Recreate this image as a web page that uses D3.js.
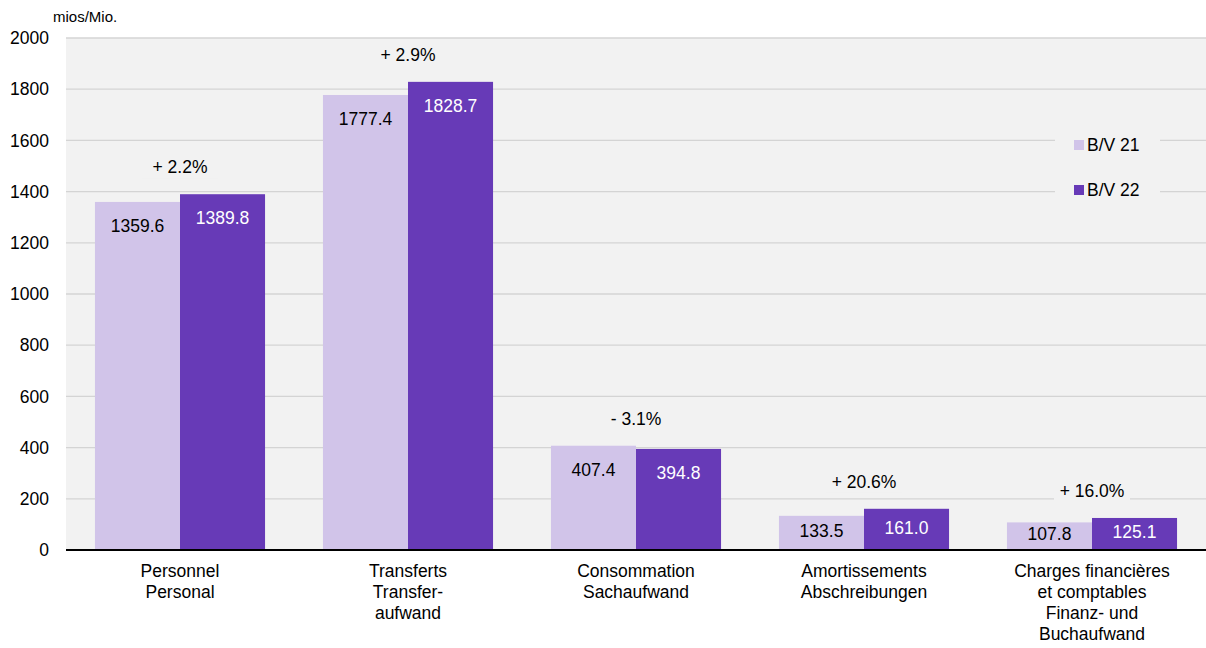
<!DOCTYPE html>
<html>
<head>
<meta charset="utf-8">
<script src="https://cdn.jsdelivr.net/npm/d3@7"></script>
<style>
  body { margin: 0; background: #fff; }
  text { font-family: "Liberation Sans", Arial, sans-serif; }
</style>
</head>
<body>
<div id="chart"></div>
<script>
const categories = [
  ["Personnel", "Personal"],
  ["Transferts", "Transfer-", "aufwand"],
  ["Consommation", "Sachaufwand"],
  ["Amortissements", "Abschreibungen"],
  ["Charges financières", "et comptables", "Finanz- und", "Buchaufwand"]
];
const series = ["B/V 21", "B/V 22"];
const bv21 = [1359.6, 1777.4, 407.4, 133.5, 107.8];
const bv22 = [1389.8, 1828.7, 394.8, 161.0, 125.1];
const changes = ["+ 2.2%", "+ 2.9%", "- 3.1%", "+ 20.6%", "+ 16.0%"];
const yTicks = [0, 200, 400, 600, 800, 1000, 1200, 1400, 1600, 1800, 2000];
const COLORS = ["#d1c4e9", "#673ab7"];
const FS = 17.5;

const W = 1206, H = 648;
const MARGIN = {TOP: 38, BOTTOM: 98, LEFT: 66, RIGHT: 0};
const WIDTH = W - MARGIN.LEFT - MARGIN.RIGHT;
const HEIGHT = H - MARGIN.TOP - MARGIN.BOTTOM;

const svg = d3.select("#chart").append("svg")
  .attr("width", W).attr("height", H);

const g = svg.append("g")
  .attr("transform", `translate(${MARGIN.LEFT},${MARGIN.TOP})`);

const x0 = d3.scaleBand().domain(d3.range(categories.length))
  .range([0, WIDTH]).paddingInner(0.254).paddingOuter(0.127);
const x1 = d3.scaleBand().domain(d3.range(series.length))
  .range([0, x0.bandwidth()]);
const y = d3.scaleLinear().domain([0, 2000]).range([HEIGHT, 0]);

// plot background
g.append("rect")
  .attr("width", WIDTH).attr("height", HEIGHT)
  .attr("fill", "#f2f2f2");

// gridlines
g.append("g")
  .selectAll("line").data(yTicks.filter(d => d > 0)).join("line")
  .attr("x1", 0).attr("x2", WIDTH)
  .attr("y1", d => y(d)).attr("y2", d => y(d))
  .attr("stroke", "#d4d4d4").attr("stroke-width", 1.3);

// y axis labels
const yAxis = d3.axisLeft(y).tickValues(yTicks).tickFormat(d3.format("d"))
  .tickSize(0).tickPadding(17);
const yG = g.append("g").call(yAxis);
yG.select(".domain").remove();
yG.selectAll("text").attr("font-size", FS).attr("fill", "#000")
  .attr("font-family", "Liberation Sans, Arial, sans-serif");

svg.append("text")
  .attr("x", 53).attr("y", 22)
  .attr("font-size", 15)
  .text("mios/Mio.");

const data = categories.map((c, i) => ({i, vals: [bv21[i], bv22[i]]}));

const groups = g.selectAll(".grp").data(data).join("g")
  .attr("class", "grp")
  .attr("transform", d => `translate(${x0(d.i)},0)`);

groups.selectAll("rect").data(d => d.vals.map((v, s) => ({v, s}))).join("rect")
  .attr("x", d => x1(d.s))
  .attr("width", x1.bandwidth())
  .attr("y", d => y(d.v))
  .attr("height", d => HEIGHT - y(d.v))
  .attr("fill", d => COLORS[d.s]);

// value labels inside bars
groups.selectAll(".val").data(d => d.vals.map((v, s) => ({v, s}))).join("text")
  .attr("class", "val")
  .attr("x", d => x1(d.s) + x1.bandwidth() / 2)
  .attr("y", d => Math.min(y(d.v) + 24, (y(d.v) + HEIGHT) / 2 - 2))
  .attr("dy", "0.35em")
  .attr("text-anchor", "middle")
  .attr("font-size", FS)
  .attr("fill", d => d.s === 0 ? "#000" : "#fff")
  .text(d => d.v.toFixed(1));

// change labels with background
const chg = groups.append("g")
  .attr("transform", d => `translate(${x0.bandwidth() / 2},${y(d3.max(d.vals)) - 27})`);
chg.append("rect")
  .attr("x", -38).attr("y", -11).attr("width", 76).attr("height", 22)
  .attr("fill", "#f2f2f2");
chg.append("text")
  .attr("text-anchor", "middle")
  .attr("dy", "0.35em")
  .attr("font-size", FS)
  .text(d => changes[d.i]);

// x axis line
g.append("line")
  .attr("x1", 0).attr("x2", WIDTH)
  .attr("y1", HEIGHT).attr("y2", HEIGHT)
  .attr("stroke", "#000").attr("stroke-width", 2);

// category labels
const cat = g.append("g").selectAll("text").data(categories).join("text")
  .attr("x", (d, i) => x0(i) + x0.bandwidth() / 2)
  .attr("y", HEIGHT + 21)
  .attr("text-anchor", "middle")
  .attr("font-size", FS);
cat.selectAll("tspan").data(d => d).join("tspan")
  .attr("x", function() { return this.parentNode.getAttribute("x"); })
  .attr("dy", (d, i) => i === 0 ? "0.35em" : 21)
  .text(d => d);

// legend
const leg = svg.append("g").attr("transform", "translate(1055,124)");
leg.append("rect").attr("width", 105).attr("height", 88).attr("fill", "#f2f2f2");
series.forEach((s, i) => {
  const row = leg.append("g").attr("transform", `translate(19,${21 + i * 45})`);
  row.append("rect").attr("x", 0).attr("y", -5).attr("width", 10).attr("height", 10)
    .attr("fill", COLORS[i]);
  row.append("text").attr("x", 13).attr("dy", "0.35em")
    .attr("font-size", FS).text(s);
});
</script>
</body>
</html>
